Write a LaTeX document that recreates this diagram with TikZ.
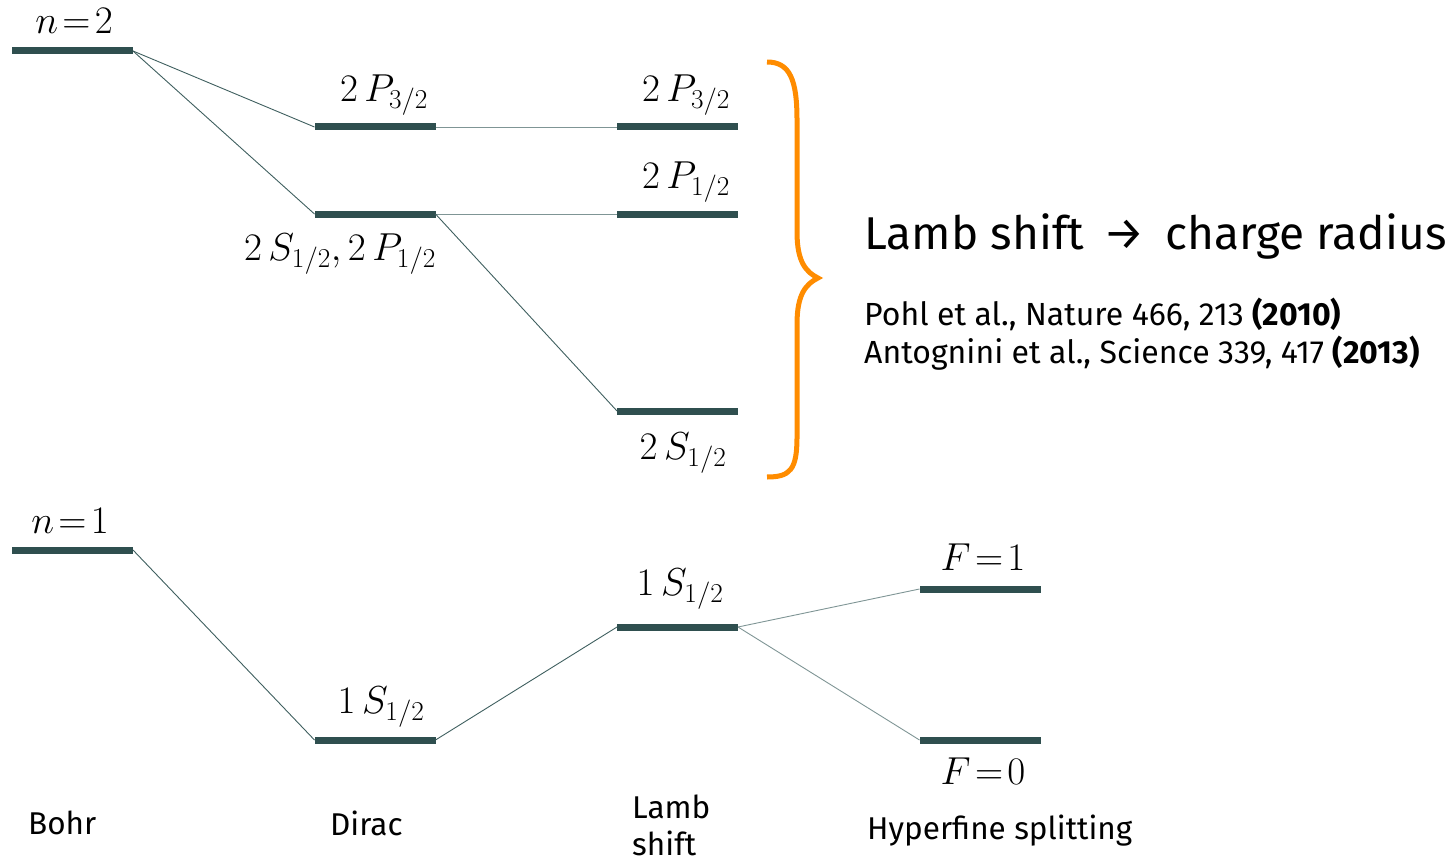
\RequirePackage{fix-cm}
\documentclass[tikz,border=0pt]{standalone}
\usepackage[no-math]{fontspec}
\setmainfont[Numbers=Lining]{Fira Sans}
\definecolor{lvl}{HTML}{2F4F4F}
\definecolor{conn}{HTML}{3F5F5F}
\definecolor{connlight}{HTML}{7F9595}
\definecolor{brace}{HTML}{FF8C00}
\tikzset{
  level/.style={fill=lvl, draw=none, minimum width=121pt, minimum height=7pt, inner sep=0pt, outer sep=0pt},
  link/.style={draw=conn, line width=0.9pt},
  linklight/.style={draw=connlight, line width=0.9pt},
  mlabel/.style={inner sep=0pt, font=\fontsize{39}{42}\selectfont},
  tlabel/.style={inner sep=0pt, font=\fontsize{31.5}{36}\selectfont, align=left},
}
\begin{document}
\begin{tikzpicture}[x=1pt, y=-1pt]
\useasboundingbox (0,0) rectangle (1455,861);
% levels
\node[level] (n2)   at (72.5,51) {};
\node[level] (d2p)  at (375,127) {};
\node[level] (d2s)  at (375,214) {};
\node[level] (l2p3) at (677.5,127) {};
\node[level] (l2p1) at (677.5,214) {};
\node[level] (l2s)  at (677.5,411) {};
\node[level] (n1)   at (72.5,550) {};
\node[level] (d1s)  at (375,740) {};
\node[level] (l1s)  at (677.5,627) {};
\node[level] (f1)   at (980,589) {};
\node[level] (f0)   at (980,740) {};
% connectors
\draw[link] (n2.east) -- (d2p.west);
\draw[link] (n2.east) -- (d2s.west);
\draw[linklight] (d2p.east) -- (l2p3.west);
\draw[linklight] (d2s.east) -- (l2p1.west);
\draw[link] (d2s.east) -- (l2s.west);
\draw[link] (n1.east) -- (d1s.west);
\draw[link] (d1s.east) -- (l1s.west);
\draw[linklight] (l1s.east) -- (f1.west);
\draw[linklight] (l1s.east) -- (f0.west);
% state labels
\node[mlabel] (tn2) at (74,21) {$n\!=\!2$};
\node[mlabel] (td2p) at (384,95) {$2\,P_{3/2}$};
\node[mlabel] (td2s) at (340,254) {$2\,S_{1/2},2\,P_{1/2}$};
\node[mlabel] (tl2p3) at (686,95) {$2\,P_{3/2}$};
\node[mlabel] (tl2p1) at (686,182) {$2\,P_{1/2}$};
\node[mlabel] (tl2s) at (683,453) {$2\,S_{1/2}$};
\node[mlabel] (tn1) at (70,521) {$n\!=\!1$};
\node[mlabel] (td1s) at (381,707) {$1\,S_{1/2}$};
\node[mlabel] (tl1s) at (680,589) {$1\,S_{1/2}$};
\node[mlabel] (tf1) at (983,557) {$F\!=\!1$};
\node[mlabel] (tf0) at (983,771) {$F\!=\!0$};
% column labels
\node[tlabel, anchor=west] (bohr) at (28,823) {Bohr};
\node[tlabel, anchor=west] (dirac) at (330,823) {Dirac};
\node[tlabel, anchor=west] (lamb) at (632,825) {Lamb\\[1pt]shift};
\node[tlabel, anchor=west] (hfs) at (867,831) {Hyperfine splitting};
% brace
\draw[brace, line width=5pt] (767,62) .. controls (790,62) and (797,80) .. (797,120) -- (797,232) .. controls (797,262) and (806,272) .. (818,278) .. controls (806,284) and (797,294) .. (797,324) -- (797,437) .. controls (797,470) and (790,477) .. (767,477);
% text
\node[inner sep=0pt, anchor=west, font=\fontsize{46}{50}\selectfont] (main) at (864,236) {Lamb shift \,→\, charge radius};
\node[inner sep=0pt, anchor=west, font=\fontsize{32}{38}\selectfont, align=left] (refs) at (864,334) {Pohl et al., Nature 466, 213 \textbf{(2010)}\\Antognini et al., Science 339, 417 \textbf{(2013)}};
\end{tikzpicture}
\end{document}
